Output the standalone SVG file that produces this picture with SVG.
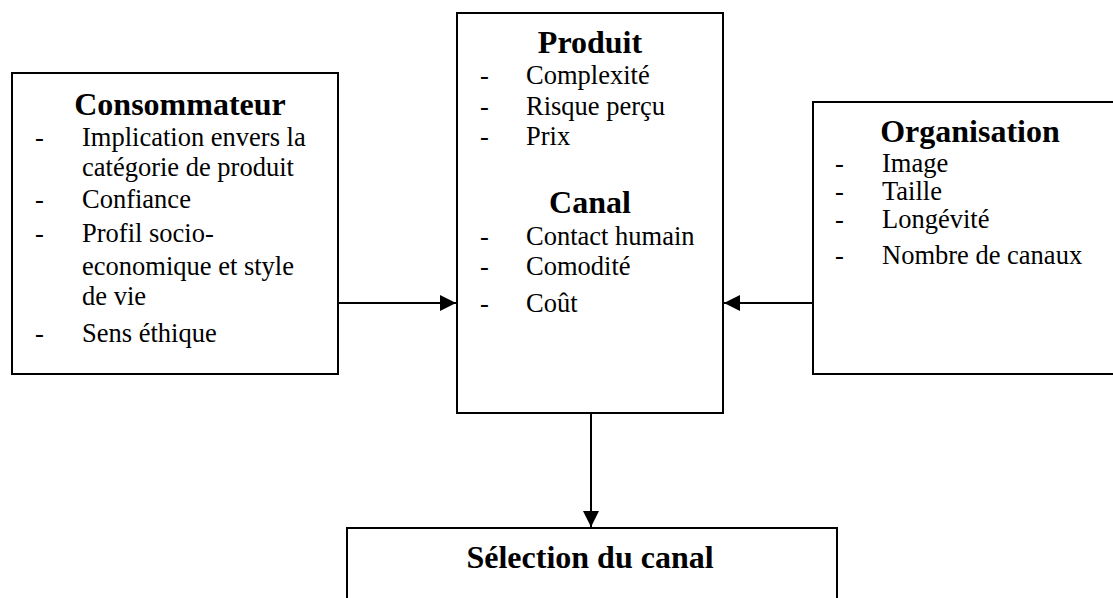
<svg xmlns="http://www.w3.org/2000/svg" width="1113" height="598" viewBox="0 0 1113 598">
<defs>
<style>
.box{fill:#fff;stroke:#000;stroke-width:2}
.t{font-family:"Liberation Serif","Times New Roman",serif;font-weight:bold;font-size:32px;text-anchor:middle;fill:#000}
.b{font-family:"Liberation Serif","Times New Roman",serif;font-size:26.5px;fill:#000}
.c{stroke:#000;stroke-width:2;fill:none}
</style>
<marker id="ah" viewBox="0 0 16 16" refX="16" refY="8" markerWidth="16" markerHeight="16" markerUnits="userSpaceOnUse" orient="auto">
<path d="M0,0 L16,8 L0,16 Z" fill="#000"/>
</marker>
</defs>
<rect width="1113" height="598" fill="#fff"/>
<g id="consommateur">
<rect class="box" x="12" y="73" width="326" height="301"/>
<text class="t" x="180" y="115">Consommateur</text>
<text class="b" x="35" y="146">-</text><text class="b" x="82" y="146">Implication envers la</text>
<text class="b" x="82" y="176">catégorie de produit</text>
<text class="b" x="35" y="208">-</text><text class="b" x="82" y="208">Confiance</text>
<text class="b" x="35" y="242">-</text><text class="b" x="82" y="242">Profil socio-</text>
<text class="b" x="82" y="275">economique et style</text>
<text class="b" x="82" y="305">de vie</text>
<text class="b" x="35" y="342">-</text><text class="b" x="82" y="342">Sens éthique</text>
</g>
<g id="produit-canal">
<rect class="box" x="457" y="13" width="266" height="400"/>
<text class="t" x="590" y="53">Produit</text>
<text class="b" x="480" y="84">-</text><text class="b" x="526" y="84">Complexité</text>
<text class="b" x="480" y="115">-</text><text class="b" x="526" y="115">Risque perçu</text>
<text class="b" x="480" y="145">-</text><text class="b" x="526" y="145">Prix</text>
<text class="t" x="590" y="213">Canal</text>
<text class="b" x="480" y="245">-</text><text class="b" x="526" y="245">Contact humain</text>
<text class="b" x="480" y="275">-</text><text class="b" x="526" y="275">Comodité</text>
<text class="b" x="480" y="312">-</text><text class="b" x="526" y="312">Coût</text>
</g>
<g id="organisation">
<rect class="box" x="813" y="102" width="310" height="272"/>
<text class="t" x="970" y="142">Organisation</text>
<text class="b" x="835" y="172">-</text><text class="b" x="882" y="172">Image</text>
<text class="b" x="835" y="200">-</text><text class="b" x="882" y="200">Taille</text>
<text class="b" x="835" y="228">-</text><text class="b" x="882" y="228">Longévité</text>
<text class="b" x="835" y="264">-</text><text class="b" x="882" y="264">Nombre de canaux</text>
</g>
<g id="selection">
<rect class="box" x="347" y="528" width="490" height="90"/>
<text class="t" x="590" y="568">Sélection du canal</text>
</g>
<g id="connectors">
<line class="c" x1="338" y1="303" x2="456" y2="303" marker-end="url(#ah)"/>
<line class="c" x1="813" y1="303" x2="724" y2="303" marker-end="url(#ah)"/>
<line class="c" x1="591" y1="413" x2="591" y2="527" marker-end="url(#ah)"/>
</g>
</svg>
